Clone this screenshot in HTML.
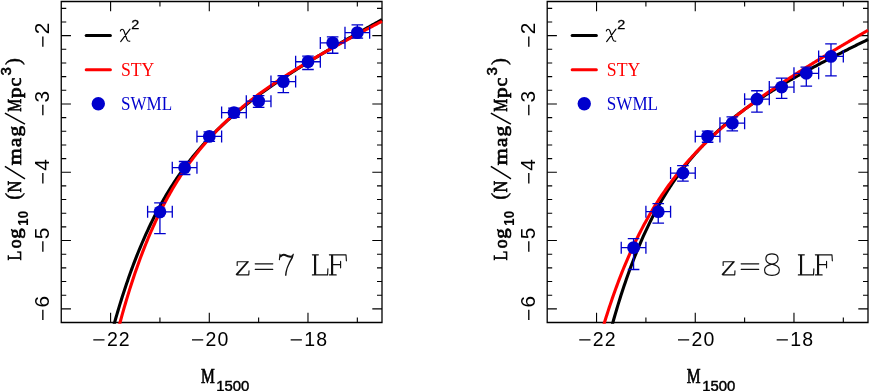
<!DOCTYPE html>
<html><head><meta charset="utf-8"><title>LF</title>
<style>html,body{margin:0;padding:0;background:#fff;}svg{display:block;will-change:transform}.fs{font-family:"Liberation Sans",sans-serif}.fr{font-family:"Liberation Serif",serif}</style></head>
<body><svg width="872" height="391" viewBox="0 0 872 391">
<rect width="872" height="391" fill="#fff"/>
<clipPath id="clip1"><rect x="59.95" y="0.20" width="323.35" height="323.60"/></clipPath>
<path d="M61.25,1.5H382V322.5H61.25Z" fill="none" stroke="#000" stroke-width="1.3" stroke-linejoin="miter"/>
<path d="M110.60,322.5v-9.7M110.60,1.5v9.7M159.94,322.5v-5.0M159.94,1.5v5.0M209.29,322.5v-9.7M209.29,1.5v9.7M258.63,322.5v-5.0M258.63,1.5v5.0M307.98,322.5v-9.7M307.98,1.5v9.7M357.33,322.5v-5.0M357.33,1.5v5.0M61.25,308.84h9.7M382,308.84h-9.7M61.25,295.18h5.0M382,295.18h-5.0M61.25,281.52h5.0M382,281.52h-5.0M61.25,267.86h5.0M382,267.86h-5.0M61.25,254.20h5.0M382,254.20h-5.0M61.25,240.54h9.7M382,240.54h-9.7M61.25,226.88h5.0M382,226.88h-5.0M61.25,213.22h5.0M382,213.22h-5.0M61.25,199.56h5.0M382,199.56h-5.0M61.25,185.90h5.0M382,185.90h-5.0M61.25,172.24h9.7M382,172.24h-9.7M61.25,158.59h5.0M382,158.59h-5.0M61.25,144.93h5.0M382,144.93h-5.0M61.25,131.27h5.0M382,131.27h-5.0M61.25,117.61h5.0M382,117.61h-5.0M61.25,103.95h9.7M382,103.95h-9.7M61.25,90.29h5.0M382,90.29h-5.0M61.25,76.63h5.0M382,76.63h-5.0M61.25,62.97h5.0M382,62.97h-5.0M61.25,49.31h5.0M382,49.31h-5.0M61.25,35.65h9.7M382,35.65h-9.7M61.25,21.99h5.0M382,21.99h-5.0M61.25,8.33h5.0M382,8.33h-5.0" fill="none" stroke="#000" stroke-width="1.1"/>
<g clip-path="url(#clip1)" fill="none" stroke-linecap="butt" stroke-linejoin="round">
<path d="M104.02,363.34 L105.09,358.88 L106.16,354.50 L107.22,350.20 L108.29,345.97 L109.36,341.81 L110.43,337.72 L111.50,333.70 L112.57,329.75 L113.64,325.86 L114.71,322.05 L115.78,318.29 L116.85,314.60 L117.92,310.97 L118.99,307.40 L120.05,303.89 L121.12,300.44 L122.19,297.04 L123.26,293.71 L124.33,290.42 L125.40,287.19 L126.47,284.01 L127.54,280.89 L128.61,277.81 L129.68,274.78 L130.75,271.81 L131.81,268.87 L132.88,265.99 L133.95,263.15 L135.02,260.36 L136.09,257.61 L137.16,254.90 L138.23,252.24 L139.30,249.62 L140.37,247.04 L141.44,244.49 L142.51,241.99 L143.58,239.53 L144.65,237.10 L145.71,234.71 L146.78,232.35 L147.85,230.03 L148.92,227.75 L149.99,225.50 L151.06,223.28 L152.13,221.09 L153.20,218.94 L154.27,216.82 L155.34,214.73 L156.41,212.67 L157.47,210.63 L158.54,208.63 L159.61,206.66 L160.68,204.71 L161.75,202.79 L162.82,200.90 L163.89,199.03 L164.96,197.19 L166.03,195.37 L167.10,193.58 L168.17,191.81 L169.24,190.07 L170.31,188.35 L171.37,186.65 L172.44,184.98 L173.51,183.32 L174.58,181.69 L175.65,180.08 L176.72,178.49 L177.79,176.92 L178.86,175.37 L179.93,173.84 L181.00,172.33 L182.07,170.83 L183.13,169.36 L184.20,167.90 L185.27,166.46 L186.34,165.04 L187.41,163.63 L188.48,162.24 L189.55,160.87 L190.62,159.51 L191.69,158.17 L192.76,156.85 L193.83,155.53 L194.90,154.24 L195.97,152.95 L197.03,151.69 L198.10,150.43 L199.17,149.19 L200.24,147.96 L201.31,146.75 L202.38,145.55 L203.45,144.36 L204.52,143.18 L205.59,142.02 L206.66,140.86 L207.73,139.72 L208.80,138.59 L209.86,137.47 L210.93,136.36 L212.00,135.26 L213.07,134.18 L214.14,133.10 L215.21,132.03 L216.28,130.98 L217.35,129.93 L218.42,128.89 L219.49,127.86 L220.56,126.84 L221.62,125.83 L222.69,124.83 L223.76,123.83 L224.83,122.85 L225.90,121.87 L226.97,120.90 L228.04,119.94 L229.11,118.99 L230.18,118.04 L231.25,117.10 L232.32,116.17 L233.39,115.25 L234.45,114.33 L235.52,113.42 L236.59,112.52 L237.66,111.62 L238.73,110.73 L239.80,109.85 L240.87,108.97 L241.94,108.10 L243.01,107.23 L244.08,106.37 L245.15,105.52 L246.22,104.67 L247.28,103.83 L248.35,102.99 L249.42,102.16 L250.49,101.33 L251.56,100.51 L252.63,99.69 L253.70,98.88 L254.77,98.07 L255.84,97.27 L256.91,96.47 L257.98,95.68 L259.05,94.89 L260.12,94.11 L261.18,93.33 L262.25,92.55 L263.32,91.78 L264.39,91.01 L265.46,90.25 L266.53,89.49 L267.60,88.73 L268.67,87.98 L269.74,87.23 L270.81,86.48 L271.88,85.74 L272.94,85.00 L274.01,84.27 L275.08,83.53 L276.15,82.81 L277.22,82.08 L278.29,81.36 L279.36,80.64 L280.43,79.92 L281.50,79.21 L282.57,78.50 L283.64,77.79 L284.71,77.08 L285.78,76.38 L286.84,75.68 L287.91,74.98 L288.98,74.29 L290.05,73.60 L291.12,72.91 L292.19,72.22 L293.26,71.53 L294.33,70.85 L295.40,70.17 L296.47,69.49 L297.54,68.81 L298.60,68.14 L299.67,67.47 L300.74,66.80 L301.81,66.13 L302.88,65.46 L303.95,64.80 L305.02,64.14 L306.09,63.48 L307.16,62.82 L308.23,62.16 L309.30,61.50 L310.37,60.85 L311.44,60.20 L312.50,59.55 L313.57,58.90 L314.64,58.25 L315.71,57.61 L316.78,56.96 L317.85,56.32 L318.92,55.68 L319.99,55.04 L321.06,54.40 L322.13,53.77 L323.20,53.13 L324.26,52.50 L325.33,51.86 L326.40,51.23 L327.47,50.60 L328.54,49.97 L329.61,49.34 L330.68,48.72 L331.75,48.09 L332.82,47.47 L333.89,46.84 L334.96,46.22 L336.03,45.60 L337.09,44.98 L338.16,44.36 L339.23,43.74 L340.30,43.12 L341.37,42.51 L342.44,41.89 L343.51,41.28 L344.58,40.66 L345.65,40.05 L346.72,39.44 L347.79,38.83 L348.86,38.22 L349.93,37.61 L350.99,37.00 L352.06,36.39 L353.13,35.78 L354.20,35.18 L355.27,34.57 L356.34,33.96 L357.41,33.36 L358.48,32.76 L359.55,32.15 L360.62,31.55 L361.69,30.95 L362.75,30.35 L363.82,29.75 L364.89,29.15 L365.96,28.55 L367.03,27.95 L368.10,27.35 L369.17,26.76 L370.24,26.16 L371.31,25.56 L372.38,24.97 L373.45,24.37 L374.52,23.78 L375.59,23.18 L376.65,22.59 L377.72,22.00 L378.79,21.40 L379.86,20.81 L380.93,20.22 L382.00,19.63" stroke="#000" stroke-width="3.1"/>
<path d="M110.43,361.11 L111.50,356.51 L112.57,351.99 L113.64,347.55 L114.71,343.19 L115.78,338.90 L116.85,334.69 L117.92,330.55 L118.99,326.48 L120.05,322.48 L121.12,318.55 L122.19,314.68 L123.26,310.89 L124.33,307.15 L125.40,303.48 L126.47,299.87 L127.54,296.33 L128.61,292.84 L129.68,289.41 L130.75,286.04 L131.81,282.72 L132.88,279.46 L133.95,276.25 L135.02,273.10 L136.09,269.99 L137.16,266.94 L138.23,263.94 L139.30,260.99 L140.37,258.08 L141.44,255.22 L142.51,252.41 L143.58,249.64 L144.65,246.92 L145.71,244.24 L146.78,241.60 L147.85,239.00 L148.92,236.45 L149.99,233.93 L151.06,231.46 L152.13,229.02 L153.20,226.62 L154.27,224.26 L155.34,221.93 L156.41,219.64 L157.47,217.38 L158.54,215.16 L159.61,212.97 L160.68,210.81 L161.75,208.69 L162.82,206.59 L163.89,204.53 L164.96,202.50 L166.03,200.50 L167.10,198.52 L168.17,196.58 L169.24,194.66 L170.31,192.77 L171.37,190.91 L172.44,189.07 L173.51,187.26 L174.58,185.47 L175.65,183.71 L176.72,181.98 L177.79,180.26 L178.86,178.57 L179.93,176.91 L181.00,175.26 L182.07,173.64 L183.13,172.04 L184.20,170.46 L185.27,168.90 L186.34,167.36 L187.41,165.84 L188.48,164.34 L189.55,162.86 L190.62,161.40 L191.69,159.96 L192.76,158.53 L193.83,157.13 L194.90,155.74 L195.97,154.36 L197.03,153.01 L198.10,151.67 L199.17,150.34 L200.24,149.03 L201.31,147.74 L202.38,146.46 L203.45,145.20 L204.52,143.95 L205.59,142.71 L206.66,141.49 L207.73,140.28 L208.80,139.09 L209.86,137.91 L210.93,136.74 L212.00,135.58 L213.07,134.44 L214.14,133.31 L215.21,132.19 L216.28,131.08 L217.35,129.98 L218.42,128.90 L219.49,127.82 L220.56,126.76 L221.62,125.71 L222.69,124.66 L223.76,123.63 L224.83,122.61 L225.90,121.59 L226.97,120.59 L228.04,119.59 L229.11,118.61 L230.18,117.63 L231.25,116.66 L232.32,115.70 L233.39,114.75 L234.45,113.81 L235.52,112.88 L236.59,111.95 L237.66,111.03 L238.73,110.12 L239.80,109.22 L240.87,108.32 L241.94,107.43 L243.01,106.55 L244.08,105.67 L245.15,104.81 L246.22,103.94 L247.28,103.09 L248.35,102.24 L249.42,101.40 L250.49,100.56 L251.56,99.73 L252.63,98.91 L253.70,98.09 L254.77,97.27 L255.84,96.47 L256.91,95.66 L257.98,94.87 L259.05,94.07 L260.12,93.29 L261.18,92.51 L262.25,91.73 L263.32,90.96 L264.39,90.19 L265.46,89.43 L266.53,88.67 L267.60,87.92 L268.67,87.17 L269.74,86.42 L270.81,85.68 L271.88,84.95 L272.94,84.21 L274.01,83.48 L275.08,82.76 L276.15,82.04 L277.22,81.32 L278.29,80.61 L279.36,79.90 L280.43,79.19 L281.50,78.49 L282.57,77.79 L283.64,77.09 L284.71,76.40 L285.78,75.71 L286.84,75.02 L287.91,74.34 L288.98,73.66 L290.05,72.98 L291.12,72.31 L292.19,71.63 L293.26,70.96 L294.33,70.30 L295.40,69.63 L296.47,68.97 L297.54,68.31 L298.60,67.66 L299.67,67.00 L300.74,66.35 L301.81,65.70 L302.88,65.05 L303.95,64.41 L305.02,63.77 L306.09,63.13 L307.16,62.49 L308.23,61.85 L309.30,61.22 L310.37,60.59 L311.44,59.96 L312.50,59.33 L313.57,58.70 L314.64,58.08 L315.71,57.45 L316.78,56.83 L317.85,56.21 L318.92,55.60 L319.99,54.98 L321.06,54.37 L322.13,53.75 L323.20,53.14 L324.26,52.53 L325.33,51.93 L326.40,51.32 L327.47,50.71 L328.54,50.11 L329.61,49.51 L330.68,48.91 L331.75,48.31 L332.82,47.71 L333.89,47.11 L334.96,46.52 L336.03,45.92 L337.09,45.33 L338.16,44.74 L339.23,44.15 L340.30,43.56 L341.37,42.97 L342.44,42.38 L343.51,41.80 L344.58,41.21 L345.65,40.63 L346.72,40.04 L347.79,39.46 L348.86,38.88 L349.93,38.30 L350.99,37.72 L352.06,37.14 L353.13,36.57 L354.20,35.99 L355.27,35.41 L356.34,34.84 L357.41,34.26 L358.48,33.69 L359.55,33.12 L360.62,32.55 L361.69,31.98 L362.75,31.41 L363.82,30.84 L364.89,30.27 L365.96,29.70 L367.03,29.13 L368.10,28.57 L369.17,28.00 L370.24,27.44 L371.31,26.87 L372.38,26.31 L373.45,25.74 L374.52,25.18 L375.59,24.62 L376.65,24.06 L377.72,23.50 L378.79,22.94 L379.86,22.38 L380.93,21.82 L382.00,21.26" stroke="#ff0000" stroke-width="3.1"/>
</g>
<g stroke="#0000cd" stroke-width="1.3" fill="#0000cd">
<path d="M147.61,211.86H172.28M147.61,205.86v12M172.28,205.86v12M159.94,202.84V233.64M154.14,202.84h11.6M154.14,233.64h11.6" fill="none"/>
<circle cx="159.94" cy="211.86" r="6.4" stroke="none"/>
<path d="M172.28,167.67H196.95M172.28,161.67v12M196.95,161.67v12M184.62,161.52V174.50M178.82,161.52h11.6M178.82,174.50h11.6" fill="none"/>
<circle cx="184.62" cy="167.67" r="6.4" stroke="none"/>
<path d="M196.95,136.46H221.62M196.95,130.46v12M221.62,130.46v12M209.29,131.81V141.37M203.49,131.81h11.6M203.49,141.37h11.6" fill="none"/>
<circle cx="209.29" cy="136.46" r="6.4" stroke="none"/>
<path d="M221.62,112.62H246.30M221.62,106.62v12M246.30,106.62v12M233.96,108.18V117.26M228.16,108.18h11.6M228.16,117.26h11.6" fill="none"/>
<circle cx="233.96" cy="112.62" r="6.4" stroke="none"/>
<path d="M246.30,101.15H270.97M246.30,95.15v12M270.97,95.15v12M258.63,95.68V107.29M252.83,95.68h11.6M252.83,107.29h11.6" fill="none"/>
<circle cx="258.63" cy="101.15" r="6.4" stroke="none"/>
<path d="M270.97,81.61H295.64M270.97,75.61v12M295.64,75.61v12M283.31,75.74V92.61M277.51,75.74h11.6M277.51,92.61h11.6" fill="none"/>
<circle cx="283.31" cy="81.61" r="6.4" stroke="none"/>
<path d="M295.64,61.74H320.32M295.64,55.74v12M320.32,55.74v12M307.98,56.14V69.52M302.18,56.14h11.6M302.18,69.52h11.6" fill="none"/>
<circle cx="307.98" cy="61.74" r="6.4" stroke="none"/>
<path d="M320.32,42.89H344.99M320.32,36.89v12M344.99,36.89v12M332.65,36.88V53.27M326.85,36.88h11.6M326.85,53.27h11.6" fill="none"/>
<circle cx="332.65" cy="42.89" r="6.4" stroke="none"/>
<path d="M344.99,32.64H369.66M344.99,26.64v12M369.66,26.64v12M357.33,24.93V38.11M351.53,24.93h11.6M351.53,38.11h11.6" fill="none"/>
<circle cx="357.33" cy="32.64" r="6.4" stroke="none"/>
</g>
<text x="106.90 118.80" y="345.6" class="fs" font-size="19.5">22</text>
<text x="205.59 217.49" y="345.6" class="fs" font-size="19.5">20</text>
<text x="304.28 316.18" y="345.6" class="fs" font-size="19.5">18</text>
<text transform="translate(48.65,35.65) rotate(-90)" x="1.4" y="0" class="fs" font-size="19.5" textLength="11.6" lengthAdjust="spacingAndGlyphs">2</text>
<text transform="translate(48.65,103.95) rotate(-90)" x="1.4" y="0" class="fs" font-size="19.5" textLength="11.6" lengthAdjust="spacingAndGlyphs">3</text>
<text transform="translate(48.65,172.24) rotate(-90)" x="1.4" y="0" class="fs" font-size="19.5" textLength="11.6" lengthAdjust="spacingAndGlyphs">4</text>
<text transform="translate(48.65,240.54) rotate(-90)" x="1.4" y="0" class="fs" font-size="19.5" textLength="11.6" lengthAdjust="spacingAndGlyphs">5</text>
<text transform="translate(48.65,308.84) rotate(-90)" x="1.4" y="0" class="fs" font-size="19.5" textLength="11.6" lengthAdjust="spacingAndGlyphs">6</text>
<path d="M93.30,339.8h11.2M191.99,339.8h11.2M290.68,339.8h11.2M42.85,46.85v-10.4M42.85,115.15v-10.4M42.85,183.44v-10.4M42.85,251.74v-10.4M42.85,320.04v-10.4" stroke="#000" stroke-width="1.35" fill="none"/>
<text x="200.90" y="383.4" class="fr" font-size="19.9" textLength="13.8" lengthAdjust="spacingAndGlyphs" stroke="#000" stroke-width="0.7">M</text>
<text x="216.20" y="390.7" class="fs" font-size="14.8" textLength="33.2" lengthAdjust="spacingAndGlyphs" stroke="#000" stroke-width="0.45">1500</text>
<g transform="translate(20.70,260.4) rotate(-90)"><text x="0.00" y="0.00" class="fr" font-size="19.2" font-weight="normal" stroke="#000" stroke-width="0.7" textLength="9.8" lengthAdjust="spacingAndGlyphs">L</text><text x="12.10" y="0.00" class="fr" font-size="19.2" font-weight="normal" stroke="#000" stroke-width="0.7" textLength="8.8" lengthAdjust="spacingAndGlyphs">o</text><text x="21.70" y="0.00" class="fr" font-size="19.2" font-weight="normal" stroke="#000" stroke-width="0.7" textLength="10.4" lengthAdjust="spacingAndGlyphs">g</text><text x="34.70" y="7.30" class="fs" font-size="14.2" font-weight="bold" stroke="#000" stroke-width="0.1" textLength="14.8" lengthAdjust="spacingAndGlyphs">10</text><text x="60.60" y="-0.50" class="fr" font-size="20.5" font-weight="normal" stroke="#000" stroke-width="0.45">(</text><text x="67.80" y="0.00" class="fr" font-size="19.2" font-weight="normal" stroke="#000" stroke-width="0.7" textLength="11.6" lengthAdjust="spacingAndGlyphs">N</text><path d="M81.6,4.3L94.0,-15.8" stroke="#000" stroke-width="1.5" fill="none"/><text x="95.20" y="0.00" class="fr" font-size="19.2" font-weight="normal" stroke="#000" stroke-width="0.7" textLength="17.0" lengthAdjust="spacingAndGlyphs">m</text><text x="113.30" y="0.00" class="fr" font-size="19.2" font-weight="normal" stroke="#000" stroke-width="0.7" textLength="9.3" lengthAdjust="spacingAndGlyphs">a</text><text x="124.00" y="0.00" class="fr" font-size="19.2" font-weight="normal" stroke="#000" stroke-width="0.7" textLength="10.6" lengthAdjust="spacingAndGlyphs">g</text><path d="M136.2,4.3L147.2,-15.8" stroke="#000" stroke-width="1.5" fill="none"/><text x="148.60" y="0.00" class="fr" font-size="19.2" font-weight="normal" stroke="#000" stroke-width="0.7" textLength="12.8" lengthAdjust="spacingAndGlyphs">M</text><text x="162.50" y="0.00" class="fr" font-size="19.2" font-weight="normal" stroke="#000" stroke-width="0.7" textLength="10.6" lengthAdjust="spacingAndGlyphs">p</text><text x="174.00" y="0.00" class="fr" font-size="19.2" font-weight="normal" stroke="#000" stroke-width="0.7" textLength="8.8" lengthAdjust="spacingAndGlyphs">c</text><text x="184.90" y="-9.90" class="fs" font-size="14.2" font-weight="normal" stroke="#000" stroke-width="0.55" textLength="8.4" lengthAdjust="spacingAndGlyphs">3</text><text x="195.40" y="-0.50" class="fr" font-size="20.5" font-weight="normal" stroke="#000" stroke-width="0.45">)</text></g>
<path d="M86.20,35.6H110.40" stroke="#000" stroke-width="3" stroke-linecap="round"/>
<path d="M86.20,69.7H110.40" stroke="#ff0000" stroke-width="3" stroke-linecap="round"/>
<circle cx="98.30" cy="103.8" r="6.7" fill="#0000cd"/>
<path transform="translate(0.00,0)" d="M120.4,31.0Q120.9,29.2 122.1,29.2Q123.3,29.2 124.0,31.0L127.0,39.6Q127.7,41.5 129.8,41.2M120.7,41.6L130.0,29.1" fill="none" stroke="#000" stroke-width="1.15" stroke-linecap="round"/>
<text x="131.20" y="28.6" class="fs" font-size="12.8" textLength="8.0" lengthAdjust="spacingAndGlyphs" stroke="#000" stroke-width="0.3">2</text>
<text x="120.90" y="75.8" class="fr" font-size="18.8" fill="#ff0000" textLength="33.4" lengthAdjust="spacingAndGlyphs">STY</text>
<text x="120.90" y="109.7" class="fr" font-size="18.8" fill="#0000cd" textLength="51.2" lengthAdjust="spacingAndGlyphs">SWML</text>
<path transform="translate(0.00,0)" d="M237.2,265.4V261.7H248.4L236.8,274.8H248.8L249.0,270.8M247.6,261.7L236.3,274.4M255.2,263.8H272.8M255.2,269.3H272.8M279.4,259.6L280.0,254.2L280.2,256.6Q282.2,253.6 285.0,254.6Q288.5,256.6 291.0,256.4Q292.6,256.2 293.3,254.2Q293.0,257.5 290.0,262.0Q286.2,268.0 285.6,275.2M292.6,256.4Q289.4,262.0 287.0,268.5Q286.0,272 285.9,275.2M280.6,256.9Q282.4,254.4 285.0,255.4Q288.5,257.4 291.2,257.0M312.4,254.8H318.4M314.6,254.8V274.9M315.6,254.8V274.9M312.4,274.9H327.6L327.9,268.8M329.4,254.8H346.0L346.4,260.8M331.6,254.8V274.9M332.6,254.8V274.9M329.4,274.9H336.2M332.6,264.6H340.6M340.6,261.4V267.8" fill="none" stroke="#111" stroke-width="1.15" stroke-linejoin="round" stroke-linecap="round"/>
<clipPath id="clip2"><rect x="545.90" y="0.20" width="323.40" height="323.60"/></clipPath>
<path d="M547.2,1.5H868.0V322.5H547.2Z" fill="none" stroke="#000" stroke-width="1.3" stroke-linejoin="miter"/>
<path d="M596.55,322.5v-9.7M596.55,1.5v9.7M645.91,322.5v-5.0M645.91,1.5v5.0M695.26,322.5v-9.7M695.26,1.5v9.7M744.62,322.5v-5.0M744.62,1.5v5.0M793.97,322.5v-9.7M793.97,1.5v9.7M843.32,322.5v-5.0M843.32,1.5v5.0M547.2,308.84h9.7M868.0,308.84h-9.7M547.2,295.18h5.0M868.0,295.18h-5.0M547.2,281.52h5.0M868.0,281.52h-5.0M547.2,267.86h5.0M868.0,267.86h-5.0M547.2,254.20h5.0M868.0,254.20h-5.0M547.2,240.54h9.7M868.0,240.54h-9.7M547.2,226.88h5.0M868.0,226.88h-5.0M547.2,213.22h5.0M868.0,213.22h-5.0M547.2,199.56h5.0M868.0,199.56h-5.0M547.2,185.90h5.0M868.0,185.90h-5.0M547.2,172.24h9.7M868.0,172.24h-9.7M547.2,158.59h5.0M868.0,158.59h-5.0M547.2,144.93h5.0M868.0,144.93h-5.0M547.2,131.27h5.0M868.0,131.27h-5.0M547.2,117.61h5.0M868.0,117.61h-5.0M547.2,103.95h9.7M868.0,103.95h-9.7M547.2,90.29h5.0M868.0,90.29h-5.0M547.2,76.63h5.0M868.0,76.63h-5.0M547.2,62.97h5.0M868.0,62.97h-5.0M547.2,49.31h5.0M868.0,49.31h-5.0M547.2,35.65h9.7M868.0,35.65h-9.7M547.2,21.99h5.0M868.0,21.99h-5.0M547.2,8.33h5.0M868.0,8.33h-5.0" fill="none" stroke="#000" stroke-width="1.1"/>
<g clip-path="url(#clip2)" fill="none" stroke-linecap="butt" stroke-linejoin="round">
<path d="M602.81,361.49 L603.87,357.03 L604.94,352.65 L606.01,348.34 L607.08,344.11 L608.15,339.96 L609.22,335.87 L610.29,331.86 L611.36,327.92 L612.43,324.04 L613.50,320.23 L614.57,316.49 L615.64,312.81 L616.71,309.19 L617.78,305.64 L618.85,302.15 L619.91,298.71 L620.98,295.33 L622.05,292.01 L623.12,288.75 L624.19,285.54 L625.26,282.38 L626.33,279.28 L627.40,276.23 L628.47,273.23 L629.54,270.28 L630.61,267.37 L631.68,264.52 L632.75,261.71 L633.82,258.95 L634.89,256.23 L635.95,253.56 L637.02,250.92 L638.09,248.33 L639.16,245.79 L640.23,243.28 L641.30,240.81 L642.37,238.38 L643.44,235.99 L644.51,233.64 L645.58,231.33 L646.65,229.05 L647.72,226.80 L648.79,224.59 L649.86,222.41 L650.93,220.27 L651.99,218.16 L653.06,216.08 L654.13,214.04 L655.20,212.02 L656.27,210.03 L657.34,208.07 L658.41,206.15 L659.48,204.25 L660.55,202.37 L661.62,200.53 L662.69,198.71 L663.76,196.92 L664.83,195.15 L665.90,193.41 L666.97,191.70 L668.03,190.00 L669.10,188.33 L670.17,186.69 L671.24,185.07 L672.31,183.46 L673.38,181.89 L674.45,180.33 L675.52,178.79 L676.59,177.28 L677.66,175.78 L678.73,174.30 L679.80,172.85 L680.87,171.41 L681.94,169.99 L683.01,168.59 L684.07,167.21 L685.14,165.84 L686.21,164.50 L687.28,163.16 L688.35,161.85 L689.42,160.55 L690.49,159.27 L691.56,158.00 L692.63,156.75 L693.70,155.51 L694.77,154.29 L695.84,153.08 L696.91,151.89 L697.98,150.71 L699.05,149.54 L700.11,148.39 L701.18,147.25 L702.25,146.12 L703.32,145.01 L704.39,143.91 L705.46,142.82 L706.53,141.74 L707.60,140.67 L708.67,139.61 L709.74,138.57 L710.81,137.54 L711.88,136.51 L712.95,135.50 L714.02,134.50 L715.09,133.50 L716.15,132.52 L717.22,131.55 L718.29,130.58 L719.36,129.63 L720.43,128.68 L721.50,127.75 L722.57,126.82 L723.64,125.90 L724.71,124.99 L725.78,124.09 L726.85,123.19 L727.92,122.31 L728.99,121.43 L730.06,120.56 L731.13,119.69 L732.19,118.84 L733.26,117.99 L734.33,117.14 L735.40,116.31 L736.47,115.48 L737.54,114.66 L738.61,113.84 L739.68,113.03 L740.75,112.23 L741.82,111.43 L742.89,110.64 L743.96,109.86 L745.03,109.08 L746.10,108.30 L747.17,107.53 L748.23,106.77 L749.30,106.01 L750.37,105.26 L751.44,104.51 L752.51,103.77 L753.58,103.03 L754.65,102.30 L755.72,101.57 L756.79,100.85 L757.86,100.13 L758.93,99.42 L760.00,98.71 L761.07,98.00 L762.14,97.30 L763.21,96.60 L764.27,95.91 L765.34,95.22 L766.41,94.53 L767.48,93.85 L768.55,93.17 L769.62,92.50 L770.69,91.83 L771.76,91.16 L772.83,90.49 L773.90,89.83 L774.97,89.18 L776.04,88.52 L777.11,87.87 L778.18,87.22 L779.25,86.58 L780.31,85.93 L781.38,85.29 L782.45,84.66 L783.52,84.02 L784.59,83.39 L785.66,82.77 L786.73,82.14 L787.80,81.52 L788.87,80.90 L789.94,80.28 L791.01,79.66 L792.08,79.05 L793.15,78.44 L794.22,77.83 L795.29,77.22 L796.35,76.62 L797.42,76.02 L798.49,75.42 L799.56,74.82 L800.63,74.23 L801.70,73.63 L802.77,73.04 L803.84,72.45 L804.91,71.86 L805.98,71.28 L807.05,70.69 L808.12,70.11 L809.19,69.53 L810.26,68.95 L811.33,68.37 L812.39,67.80 L813.46,67.22 L814.53,66.65 L815.60,66.08 L816.67,65.51 L817.74,64.94 L818.81,64.37 L819.88,63.81 L820.95,63.24 L822.02,62.68 L823.09,62.12 L824.16,61.56 L825.23,61.00 L826.30,60.44 L827.37,59.89 L828.43,59.33 L829.50,58.78 L830.57,58.23 L831.64,57.68 L832.71,57.13 L833.78,56.58 L834.85,56.03 L835.92,55.48 L836.99,54.94 L838.06,54.39 L839.13,53.85 L840.20,53.30 L841.27,52.76 L842.34,52.22 L843.41,51.68 L844.47,51.14 L845.54,50.60 L846.61,50.06 L847.68,49.53 L848.75,48.99 L849.82,48.46 L850.89,47.92 L851.96,47.39 L853.03,46.86 L854.10,46.32 L855.17,45.79 L856.24,45.26 L857.31,44.73 L858.38,44.20 L859.45,43.67 L860.51,43.15 L861.58,42.62 L862.65,42.09 L863.72,41.57 L864.79,41.04 L865.86,40.52 L866.93,39.99 L868.00,39.47" stroke="#000" stroke-width="3.1"/>
<path d="M593.18,362.82 L594.25,358.69 L595.32,354.63 L596.39,350.64 L597.46,346.71 L598.53,342.85 L599.60,339.06 L600.67,335.32 L601.74,331.65 L602.81,328.05 L603.87,324.50 L604.94,321.00 L606.01,317.57 L607.08,314.19 L608.15,310.87 L609.22,307.60 L610.29,304.38 L611.36,301.21 L612.43,298.10 L613.50,295.03 L614.57,292.01 L615.64,289.05 L616.71,286.12 L617.78,283.25 L618.85,280.41 L619.91,277.63 L620.98,274.88 L622.05,272.18 L623.12,269.52 L624.19,266.90 L625.26,264.32 L626.33,261.78 L627.40,259.27 L628.47,256.81 L629.54,254.38 L630.61,251.99 L631.68,249.63 L632.75,247.31 L633.82,245.02 L634.89,242.76 L635.95,240.54 L637.02,238.35 L638.09,236.19 L639.16,234.06 L640.23,231.96 L641.30,229.89 L642.37,227.85 L643.44,225.84 L644.51,223.86 L645.58,221.90 L646.65,219.97 L647.72,218.07 L648.79,216.19 L649.86,214.34 L650.93,212.51 L651.99,210.70 L653.06,208.92 L654.13,207.17 L655.20,205.43 L656.27,203.72 L657.34,202.03 L658.41,200.36 L659.48,198.71 L660.55,197.09 L661.62,195.48 L662.69,193.89 L663.76,192.33 L664.83,190.78 L665.90,189.25 L666.97,187.74 L668.03,186.24 L669.10,184.77 L670.17,183.31 L671.24,181.87 L672.31,180.44 L673.38,179.03 L674.45,177.64 L675.52,176.26 L676.59,174.90 L677.66,173.55 L678.73,172.22 L679.80,170.90 L680.87,169.60 L681.94,168.31 L683.01,167.03 L684.07,165.77 L685.14,164.52 L686.21,163.28 L687.28,162.05 L688.35,160.84 L689.42,159.64 L690.49,158.45 L691.56,157.27 L692.63,156.11 L693.70,154.95 L694.77,153.81 L695.84,152.68 L696.91,151.55 L697.98,150.44 L699.05,149.34 L700.11,148.25 L701.18,147.16 L702.25,146.09 L703.32,145.02 L704.39,143.97 L705.46,142.92 L706.53,141.89 L707.60,140.86 L708.67,139.84 L709.74,138.82 L710.81,137.82 L711.88,136.82 L712.95,135.83 L714.02,134.85 L715.09,133.88 L716.15,132.91 L717.22,131.96 L718.29,131.00 L719.36,130.06 L720.43,129.12 L721.50,128.19 L722.57,127.26 L723.64,126.34 L724.71,125.43 L725.78,124.52 L726.85,123.62 L727.92,122.73 L728.99,121.84 L730.06,120.96 L731.13,120.08 L732.19,119.21 L733.26,118.34 L734.33,117.48 L735.40,116.62 L736.47,115.77 L737.54,114.92 L738.61,114.08 L739.68,113.24 L740.75,112.41 L741.82,111.58 L742.89,110.76 L743.96,109.94 L745.03,109.12 L746.10,108.31 L747.17,107.50 L748.23,106.70 L749.30,105.90 L750.37,105.11 L751.44,104.32 L752.51,103.53 L753.58,102.74 L754.65,101.96 L755.72,101.19 L756.79,100.41 L757.86,99.64 L758.93,98.88 L760.00,98.11 L761.07,97.35 L762.14,96.59 L763.21,95.84 L764.27,95.09 L765.34,94.34 L766.41,93.59 L767.48,92.85 L768.55,92.11 L769.62,91.37 L770.69,90.64 L771.76,89.91 L772.83,89.18 L773.90,88.45 L774.97,87.73 L776.04,87.00 L777.11,86.28 L778.18,85.57 L779.25,84.85 L780.31,84.14 L781.38,83.43 L782.45,82.72 L783.52,82.01 L784.59,81.31 L785.66,80.60 L786.73,79.90 L787.80,79.20 L788.87,78.51 L789.94,77.81 L791.01,77.12 L792.08,76.43 L793.15,75.74 L794.22,75.05 L795.29,74.36 L796.35,73.68 L797.42,72.99 L798.49,72.31 L799.56,71.63 L800.63,70.95 L801.70,70.27 L802.77,69.60 L803.84,68.92 L804.91,68.25 L805.98,67.58 L807.05,66.91 L808.12,66.24 L809.19,65.57 L810.26,64.91 L811.33,64.24 L812.39,63.58 L813.46,62.92 L814.53,62.25 L815.60,61.59 L816.67,60.93 L817.74,60.28 L818.81,59.62 L819.88,58.96 L820.95,58.31 L822.02,57.65 L823.09,57.00 L824.16,56.35 L825.23,55.70 L826.30,55.05 L827.37,54.40 L828.43,53.75 L829.50,53.10 L830.57,52.46 L831.64,51.81 L832.71,51.16 L833.78,50.52 L834.85,49.88 L835.92,49.23 L836.99,48.59 L838.06,47.95 L839.13,47.31 L840.20,46.67 L841.27,46.03 L842.34,45.40 L843.41,44.76 L844.47,44.12 L845.54,43.48 L846.61,42.85 L847.68,42.21 L848.75,41.58 L849.82,40.95 L850.89,40.31 L851.96,39.68 L853.03,39.05 L854.10,38.42 L855.17,37.79 L856.24,37.16 L857.31,36.53 L858.38,35.90 L859.45,35.27 L860.51,34.64 L861.58,34.01 L862.65,33.39 L863.72,32.76 L864.79,32.13 L865.86,31.51 L866.93,30.88 L868.00,30.26" stroke="#ff0000" stroke-width="3.1"/>
</g>
<g stroke="#0000cd" stroke-width="1.3" fill="#0000cd">
<path d="M621.23,247.65H645.91M621.23,241.65v12M645.91,241.65v12M633.57,238.63V269.50M627.77,238.63h11.6M627.77,269.50h11.6" fill="none"/>
<circle cx="633.57" cy="247.65" r="6.4" stroke="none"/>
<path d="M645.91,211.72H670.58M645.91,205.72v12M670.58,205.72v12M658.25,203.53V223.19M652.45,203.53h11.6M652.45,223.19h11.6" fill="none"/>
<circle cx="658.25" cy="211.72" r="6.4" stroke="none"/>
<path d="M670.58,173.06H695.26M670.58,167.06v12M695.26,167.06v12M682.92,165.55V181.06M677.12,165.55h11.6M677.12,181.06h11.6" fill="none"/>
<circle cx="682.92" cy="173.06" r="6.4" stroke="none"/>
<path d="M695.26,136.39H719.94M695.26,130.39v12M719.94,130.39v12M707.60,131.13V142.26M701.80,131.13h11.6M701.80,142.26h11.6" fill="none"/>
<circle cx="707.60" cy="136.39" r="6.4" stroke="none"/>
<path d="M719.94,123.14H744.62M719.94,117.14v12M744.62,117.14v12M732.28,116.79V130.79M726.48,116.79h11.6M726.48,130.79h11.6" fill="none"/>
<circle cx="732.28" cy="123.14" r="6.4" stroke="none"/>
<path d="M744.62,99.17H769.29M744.62,93.17v12M769.29,93.17v12M756.95,90.77V112.14M751.15,90.77h11.6M751.15,112.14h11.6" fill="none"/>
<circle cx="756.95" cy="99.17" r="6.4" stroke="none"/>
<path d="M769.29,87.08H793.97M769.29,81.08v12M793.97,81.08v12M781.63,78.06V98.35M775.83,78.06h11.6M775.83,98.35h11.6" fill="none"/>
<circle cx="781.63" cy="87.08" r="6.4" stroke="none"/>
<path d="M793.97,73.28H818.65M793.97,67.28v12M818.65,67.28v12M806.31,67.13V86.05M800.51,67.13h11.6M800.51,86.05h11.6" fill="none"/>
<circle cx="806.31" cy="73.28" r="6.4" stroke="none"/>
<path d="M818.65,56.41H843.32M818.65,50.41v12M843.32,50.41v12M830.98,43.91V75.81M825.18,43.91h11.6M825.18,75.81h11.6" fill="none"/>
<circle cx="830.98" cy="56.41" r="6.4" stroke="none"/>
</g>
<text x="592.85 604.75" y="345.6" class="fs" font-size="19.5">22</text>
<text x="691.56 703.46" y="345.6" class="fs" font-size="19.5">20</text>
<text x="790.27 802.17" y="345.6" class="fs" font-size="19.5">18</text>
<text transform="translate(534.60,35.65) rotate(-90)" x="1.4" y="0" class="fs" font-size="19.5" textLength="11.6" lengthAdjust="spacingAndGlyphs">2</text>
<text transform="translate(534.60,103.95) rotate(-90)" x="1.4" y="0" class="fs" font-size="19.5" textLength="11.6" lengthAdjust="spacingAndGlyphs">3</text>
<text transform="translate(534.60,172.24) rotate(-90)" x="1.4" y="0" class="fs" font-size="19.5" textLength="11.6" lengthAdjust="spacingAndGlyphs">4</text>
<text transform="translate(534.60,240.54) rotate(-90)" x="1.4" y="0" class="fs" font-size="19.5" textLength="11.6" lengthAdjust="spacingAndGlyphs">5</text>
<text transform="translate(534.60,308.84) rotate(-90)" x="1.4" y="0" class="fs" font-size="19.5" textLength="11.6" lengthAdjust="spacingAndGlyphs">6</text>
<path d="M579.25,339.8h11.2M677.96,339.8h11.2M776.67,339.8h11.2M528.80,46.85v-10.4M528.80,115.15v-10.4M528.80,183.44v-10.4M528.80,251.74v-10.4M528.80,320.04v-10.4" stroke="#000" stroke-width="1.35" fill="none"/>
<text x="686.85" y="383.4" class="fr" font-size="19.9" textLength="13.8" lengthAdjust="spacingAndGlyphs" stroke="#000" stroke-width="0.7">M</text>
<text x="702.15" y="390.7" class="fs" font-size="14.8" textLength="33.2" lengthAdjust="spacingAndGlyphs" stroke="#000" stroke-width="0.45">1500</text>
<g transform="translate(506.65,260.4) rotate(-90)"><text x="0.00" y="0.00" class="fr" font-size="19.2" font-weight="normal" stroke="#000" stroke-width="0.7" textLength="9.8" lengthAdjust="spacingAndGlyphs">L</text><text x="12.10" y="0.00" class="fr" font-size="19.2" font-weight="normal" stroke="#000" stroke-width="0.7" textLength="8.8" lengthAdjust="spacingAndGlyphs">o</text><text x="21.70" y="0.00" class="fr" font-size="19.2" font-weight="normal" stroke="#000" stroke-width="0.7" textLength="10.4" lengthAdjust="spacingAndGlyphs">g</text><text x="34.70" y="7.30" class="fs" font-size="14.2" font-weight="bold" stroke="#000" stroke-width="0.1" textLength="14.8" lengthAdjust="spacingAndGlyphs">10</text><text x="60.60" y="-0.50" class="fr" font-size="20.5" font-weight="normal" stroke="#000" stroke-width="0.45">(</text><text x="67.80" y="0.00" class="fr" font-size="19.2" font-weight="normal" stroke="#000" stroke-width="0.7" textLength="11.6" lengthAdjust="spacingAndGlyphs">N</text><path d="M81.6,4.3L94.0,-15.8" stroke="#000" stroke-width="1.5" fill="none"/><text x="95.20" y="0.00" class="fr" font-size="19.2" font-weight="normal" stroke="#000" stroke-width="0.7" textLength="17.0" lengthAdjust="spacingAndGlyphs">m</text><text x="113.30" y="0.00" class="fr" font-size="19.2" font-weight="normal" stroke="#000" stroke-width="0.7" textLength="9.3" lengthAdjust="spacingAndGlyphs">a</text><text x="124.00" y="0.00" class="fr" font-size="19.2" font-weight="normal" stroke="#000" stroke-width="0.7" textLength="10.6" lengthAdjust="spacingAndGlyphs">g</text><path d="M136.2,4.3L147.2,-15.8" stroke="#000" stroke-width="1.5" fill="none"/><text x="148.60" y="0.00" class="fr" font-size="19.2" font-weight="normal" stroke="#000" stroke-width="0.7" textLength="12.8" lengthAdjust="spacingAndGlyphs">M</text><text x="162.50" y="0.00" class="fr" font-size="19.2" font-weight="normal" stroke="#000" stroke-width="0.7" textLength="10.6" lengthAdjust="spacingAndGlyphs">p</text><text x="174.00" y="0.00" class="fr" font-size="19.2" font-weight="normal" stroke="#000" stroke-width="0.7" textLength="8.8" lengthAdjust="spacingAndGlyphs">c</text><text x="184.90" y="-9.90" class="fs" font-size="14.2" font-weight="normal" stroke="#000" stroke-width="0.55" textLength="8.4" lengthAdjust="spacingAndGlyphs">3</text><text x="195.40" y="-0.50" class="fr" font-size="20.5" font-weight="normal" stroke="#000" stroke-width="0.45">)</text></g>
<path d="M572.15,35.6H596.35" stroke="#000" stroke-width="3" stroke-linecap="round"/>
<path d="M572.15,69.7H596.35" stroke="#ff0000" stroke-width="3" stroke-linecap="round"/>
<circle cx="584.25" cy="103.8" r="6.7" fill="#0000cd"/>
<path transform="translate(485.95,0)" d="M120.4,31.0Q120.9,29.2 122.1,29.2Q123.3,29.2 124.0,31.0L127.0,39.6Q127.7,41.5 129.8,41.2M120.7,41.6L130.0,29.1" fill="none" stroke="#000" stroke-width="1.15" stroke-linecap="round"/>
<text x="617.15" y="28.6" class="fs" font-size="12.8" textLength="8.0" lengthAdjust="spacingAndGlyphs" stroke="#000" stroke-width="0.3">2</text>
<text x="606.85" y="75.8" class="fr" font-size="18.8" fill="#ff0000" textLength="33.4" lengthAdjust="spacingAndGlyphs">STY</text>
<text x="606.85" y="109.7" class="fr" font-size="18.8" fill="#0000cd" textLength="51.2" lengthAdjust="spacingAndGlyphs">SWML</text>
<path transform="translate(485.95,0)" d="M237.2,265.4V261.7H248.4L236.8,274.8H248.8L249.0,270.8M247.6,261.7L236.3,274.4M255.2,263.8H272.8M255.2,269.3H272.8M286.0,253.9C281.4,253.9 279.9,256.6 279.9,258.9C279.9,261.6 282.0,263.3 286.0,264.1C290.8,265.1 293.4,266.9 293.4,270.0C293.4,273.0 290.8,275.4 286.0,275.4C281.2,275.4 278.6,273.0 278.6,270.0C278.6,266.9 281.2,265.1 286.0,264.1C290.0,263.3 292.1,261.6 292.1,258.9C292.1,256.6 290.6,253.9 286.0,253.9ZM312.4,254.8H318.4M314.6,254.8V274.9M315.6,254.8V274.9M312.4,274.9H327.6L327.9,268.8M329.4,254.8H346.0L346.4,260.8M331.6,254.8V274.9M332.6,254.8V274.9M329.4,274.9H336.2M332.6,264.6H340.6M340.6,261.4V267.8" fill="none" stroke="#111" stroke-width="1.15" stroke-linejoin="round" stroke-linecap="round"/>
</svg></body></html>
